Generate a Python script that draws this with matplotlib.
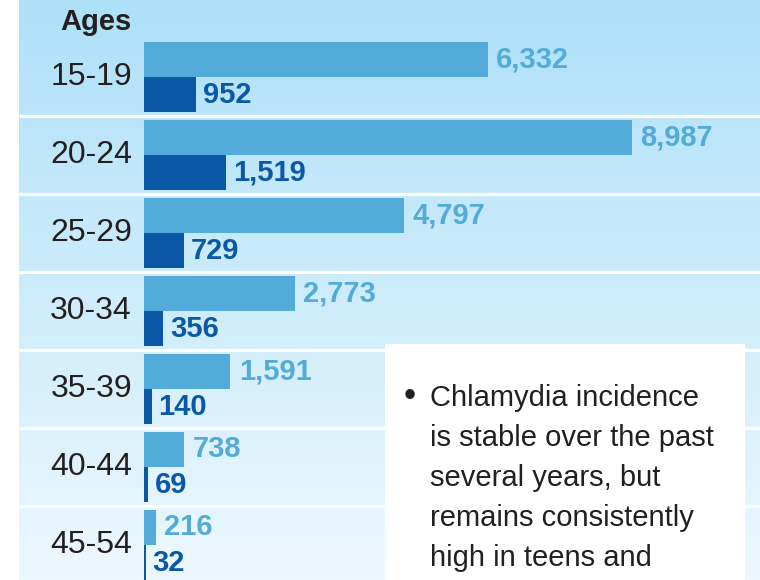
import numpy as np
import matplotlib
matplotlib.use('Agg')
import matplotlib.pyplot as plt
from matplotlib.patches import Rectangle

# Chlamydia cases by age group
ages = ['15-19', '20-24', '25-29', '30-34', '35-39', '40-44', '45-54']
cases_light = [6332, 8987, 4797, 2773, 1591, 738, 216]
cases_dark = [952, 1519, 729, 356, 140, 69, 32]

note_lines = ['Chlamydia incidence', 'is stable over the past', 'several years, but',
              'remains consistently', 'high in teens and']

LIGHT = '#52abd8'
DARK = '#0b58a7'
INK = '#231f20'
W, H = 760, 580

plt.rcParams['font.family'] = ['Liberation Sans', 'DejaVu Sans']
NARROW = ['Liberation Sans Narrow', 'Liberation Sans', 'DejaVu Sans']

fig = plt.figure(figsize=(W / 100, H / 100), dpi=100)
ax = fig.add_axes([0, 0, 1, 1])

# pixel layout: bars start at x=144, 8,987 reaches x=632; rows are 78 px apart
px_per_unit = 488 / 8987
x0 = -144 / px_per_unit
x1 = (W - 144) / px_per_unit
row_px, first_center = 78, 77
y_top = -first_center / row_px
y_bot = (H - first_center) / row_px
ax.set_xlim(x0, x1)
ax.set_ylim(y_bot, y_top)
ax.axis('off')

# background gradient panel
panel_left = x0 + 19 / px_per_unit
grad = np.linspace(0, 1, 256)[:, None]
top_c = np.array([174, 224, 248]) / 255
bot_c = np.array([237, 248, 254]) / 255
img = top_c[None, None, :] * (1 - grad[..., None]) + bot_c[None, None, :] * grad[..., None]
ax.imshow(img, extent=[panel_left, x1, y_bot, y_top], aspect='auto', zorder=0)

# white row separators
for i in range(len(ages) - 1):
    ax.plot([panel_left, x1], [i + 0.5, i + 0.5], color='white', lw=2.3, zorder=1,
            solid_capstyle='butt')

y = np.arange(len(ages))
bh = 0.44
ax.barh(y - 0.225, cases_light, height=bh, color=LIGHT, zorder=2)
ax.barh(y + 0.225, cases_dark, height=bh, color=DARK, zorder=2)

for i, (a, b) in enumerate(zip(cases_light, cases_dark)):
    ax.annotate(f'{a:,}', (a, i - 0.225), xytext=(6, 0), textcoords='offset points',
                va='center', ha='left', fontsize=21, fontweight='bold', color=LIGHT,
                family=NARROW, zorder=3)
    ax.annotate(f'{b:,}', (b, i + 0.225), xytext=(5, 0), textcoords='offset points',
                va='center', ha='left', fontsize=21, fontweight='bold', color=DARK,
                family=NARROW, zorder=3)
    ax.text(x0 + 132 / px_per_unit, i, ages[i], ha='right', va='center',
            fontsize=23, color=INK, zorder=3)

ax.text(x0 + 132 / px_per_unit, y_top + 22 / row_px, 'Ages', ha='right', va='center',
        fontsize=21, fontweight='bold', color=INK, family=NARROW, zorder=3)

# white note box
fig.patches.append(Rectangle((385 / W, 0), 360 / W, (H - 344) / H, transform=fig.transFigure,
                             facecolor='white', edgecolor='none', zorder=5))
fig.text(404 / W, 1 - 406 / H, '\u2022', fontsize=25, color=INK, va='baseline', zorder=6)
for k, line in enumerate(note_lines):
    fig.text(430 / W, 1 - (406 + 40 * k) / H, line, fontsize=21, color=INK,
             va='baseline', ha='left', zorder=6)

fig.savefig('out.png', dpi=100)
